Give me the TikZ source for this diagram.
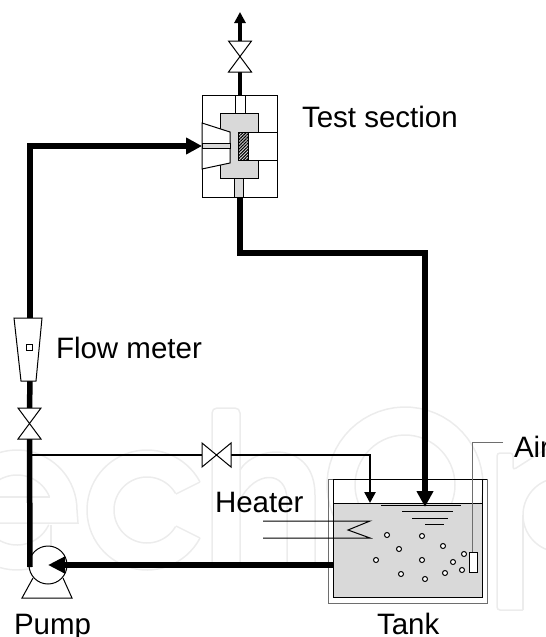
\documentclass[tikz,border=0pt]{standalone}
\usepackage{fontspec}
\setmainfont{Liberation Sans}
\usepackage{tikz}
\usetikzlibrary{arrows.meta,patterns.meta}
\definecolor{water}{HTML}{d9d9d9}
\definecolor{wallgray}{HTML}{6e6e6e}
\definecolor{mark}{HTML}{ececec}

\begin{document}
\begin{tikzpicture}[
    x=1pt, y=-1pt,
    every node/.style = {inner sep=0pt, outer sep=0pt},
    label/.style = {font=\fontsize{29.5}{32}\selectfont, anchor=base west},
    pipe/.style = {line width=5.5pt, -{Triangle[length=16pt, width=16pt]}},
    pipeplain/.style = {line width=5.5pt},
    thinpipe/.style = {line width=1.5pt},
    thinarrow/.style = {line width=2.5pt, -{Triangle[length=11pt, width=11pt]}},
    part/.style = {rectangle, draw=black, line width=1pt},
    valve/.style = {rectangle, minimum width=23pt, minimum height=31pt},
    valveh/.style = {rectangle, minimum width=29pt, minimum height=24pt},
    bubble/.style = {circle, draw=black, fill=white, line width=1pt, minimum size=5pt},
    markline/.style = {draw=mark, line width=1.5pt},
]
    \useasboundingbox (0,0) rectangle (546,637);

    % background letters
    \foreach \cx/\cy/\r/\from/\to in {17/510/60/0/305, 17/510/35/22/180, 17/510/35/195/335,
        147/510/60/28/332, 147/510/33/30/330, 405/485/78/0/360, 405/485/50/0/360,
        560/515/37/100/260}
        \draw [markline] plot [domain=\from:\to, samples=60] ({\cx+\r*cos(\x)},{\cy-\r*sin(\x)});
    \draw [markline] (77,510) -- (78,523) -- (0,523);
    \draw [markline] (50,497) -- (0,497);
    \draw [markline] (51,525) -- (51,559);
    \draw [markline] (176,494) -- (200,482);
    \draw [markline] (176,526) -- (200,538);
    \draw [markline, rounded corners=5pt] (212,565) -- (212,408) -- (240,408) -- (240,565);
    \draw [markline] (240,470) .. controls (255,445) and (315,440) .. (315,495) -- (315,565);
    \draw [markline] (240,500) .. controls (255,470) and (287,470) .. (287,500) -- (287,565);
    \draw [markline, rounded corners=3pt] (523,610) -- (497,610) -- (497,453) -- (513,453) -- (513,470) -- (546,449);
    \draw [markline] (523,515) -- (523,610);

    % tank
    \node [rectangle, draw=wallgray, line width=1pt, minimum width=159pt, minimum height=124pt] (tankouter) at (407.5,541) {};
    \node [part, minimum width=149pt, minimum height=118pt] (tank) at (407.5,538) {};
    \node [part, fill=water, minimum width=149pt, minimum height=94pt] (water) at (407.5,550) {};
    \draw [line width=1pt] (tank.north west) -- (tankouter.north east);

    % water level
    \draw [line width=1pt] (381,505.5) -- (461,505.5);
    \draw [line width=1pt] (402,511) -- (453,511);
    \draw [line width=1pt] (412,518) -- (448,518);
    \draw [line width=1pt] (425,524) -- (444,524);

    % bubbles
    \foreach \bx/\by [count=\i] in {387/535, 422/536, 443/546, 399/549, 464/554, 376/560,
        422/560, 453/562, 462/570, 445/573, 401/574, 425/579}
        \node [bubble] (bubble\i) at (\bx,\by) {};

    % air
    \node [part, fill=white, minimum width=8pt, minimum height=20pt] (sparger) at (473,562) {};
    \coordinate (aircorner) at (472,442);
    \coordinate (airend) at (503,442);
    \draw [draw=wallgray, line width=1pt] (airend) -- (aircorner) -- (sparger.north -| aircorner);

    % heater
    \coordinate (heatA) at (263,521);
    \coordinate (heatB) at (370,521);
    \coordinate (heatC) at (348,530);
    \coordinate (heatD) at (370,538);
    \coordinate (heatE) at (263,538);
    \draw [line width=1pt] (heatA) -- (heatB) -- (heatC) -- (heatD) -- (heatE);

    % test section
    \node [part, fill=white, minimum width=75pt, minimum height=102pt] (testbox) at (239.5,146) {};
    \node [part, fill=white, minimum width=10pt, minimum height=18pt] (topstub) at (240,104) {};
    \node [part, fill=water, minimum width=38pt, minimum height=65pt] (body) at (239,145.5) {};
    \node [part, fill=water, minimum width=9pt, minimum height=19pt] (botstub) at (238.5,187.5) {};
    \draw [fill=white, line width=1pt] (testbox.west |- 0,123) -- (230,132) -- (230,163) -- (testbox.west |- 0,169) -- cycle;
    \node [part, fill=water, minimum width=28pt, minimum height=5pt, anchor=west] (channel) at (testbox.west |- 0,145.5) {};
    \node [part, fill=white, minimum width=29pt, minimum height=28pt, anchor=west] (piston) at (248,146) {};
    \node [part, pattern={Lines[angle=45, distance=2.2pt, line width=1.1pt]}, minimum width=10pt, minimum height=28pt, anchor=east] (sample) at (piston.west) {};

    % valves
    \node [valve] (valve1) at (240,56.5) {};
    \node [valve] (valve2) at (29.5,423.5) {};
    \node [valveh] (valve3) at (216.5,455) {};

    % flow meter and pump
    \node [rectangle, minimum width=28pt, minimum height=63pt] (flowmeter) at (28,349.5) {};
    \draw [line width=1pt] (33,578) -- (22,598) -- (72,598) -- (63,578);
    \node [circle, draw=black, fill=white, line width=1pt, minimum size=38pt] (pump) at (48,565) {};
    \coordinate (outlet) at (240,12);
    \coordinate (elbow1) at (30,146);
    \coordinate (elbow2) at (240,253);
    \coordinate (elbow3) at (425,253);
    \coordinate (elbow4) at (370,455);
    \coordinate (tee) at (30,455);

    % pipes
    \draw [line width=4pt, -{Triangle[length=11pt, width=11pt]}] (valve1.north -| outlet) -- (outlet);
    \draw [line width=4pt] (valve1.south) -- (topstub.north);
    \draw [pipeplain] (flowmeter.south -| elbow1) -- (valve2.north);
    \draw [pipeplain] (valve2.south) -- (30,567);
    \draw [pipe] (flowmeter.north -| elbow1) -- (elbow1) -- (testbox.west |- elbow1);
    \draw [pipe, shorten >=-4pt] (botstub.south -| elbow2) -- (elbow2) -- (elbow3) -- (water.north -| elbow3);
    \draw [pipe, -{Triangle[length=17pt, width=16pt]}] (water.west |- pump) -- (pump.center);
    \draw [thinpipe] (tee) -- (valve3.west);
    \draw [thinarrow] (valve3.east) -- (elbow4) -- (water.north -| elbow4);

    % valve and part outlines
    \foreach \v in {valve1, valve2}
        \draw [line width=1pt, fill=white] (\v.north west) -- (\v.north east) -- (\v.south west) -- (\v.south east) -- cycle;
    \draw [line width=1pt, fill=white] (valve3.north west) -- (valve3.south west) -- (valve3.north east) -- (valve3.south east) -- cycle;
    \draw [line width=1pt, fill=white] (14,318) -- (42,318) -- (36,381) -- (21,381) -- cycle;
    \node [part, fill=white, minimum size=6pt] (float) at (29,347) {};

    % labels
    \node [label] (testlabel) at (302,127) {Test section};
    \node [label] (flowlabel) at (56,358) {Flow meter};
    \node [label] (heaterlabel) at (215,512) {Heater};
    \node [label] (airlabel) at (514,457) {Air};
    \node [label] (pumplabel) at (14,634) {Pump};
    \node [label] (tanklabel) at (377,634) {Tank};
\end{tikzpicture}
\end{document}
